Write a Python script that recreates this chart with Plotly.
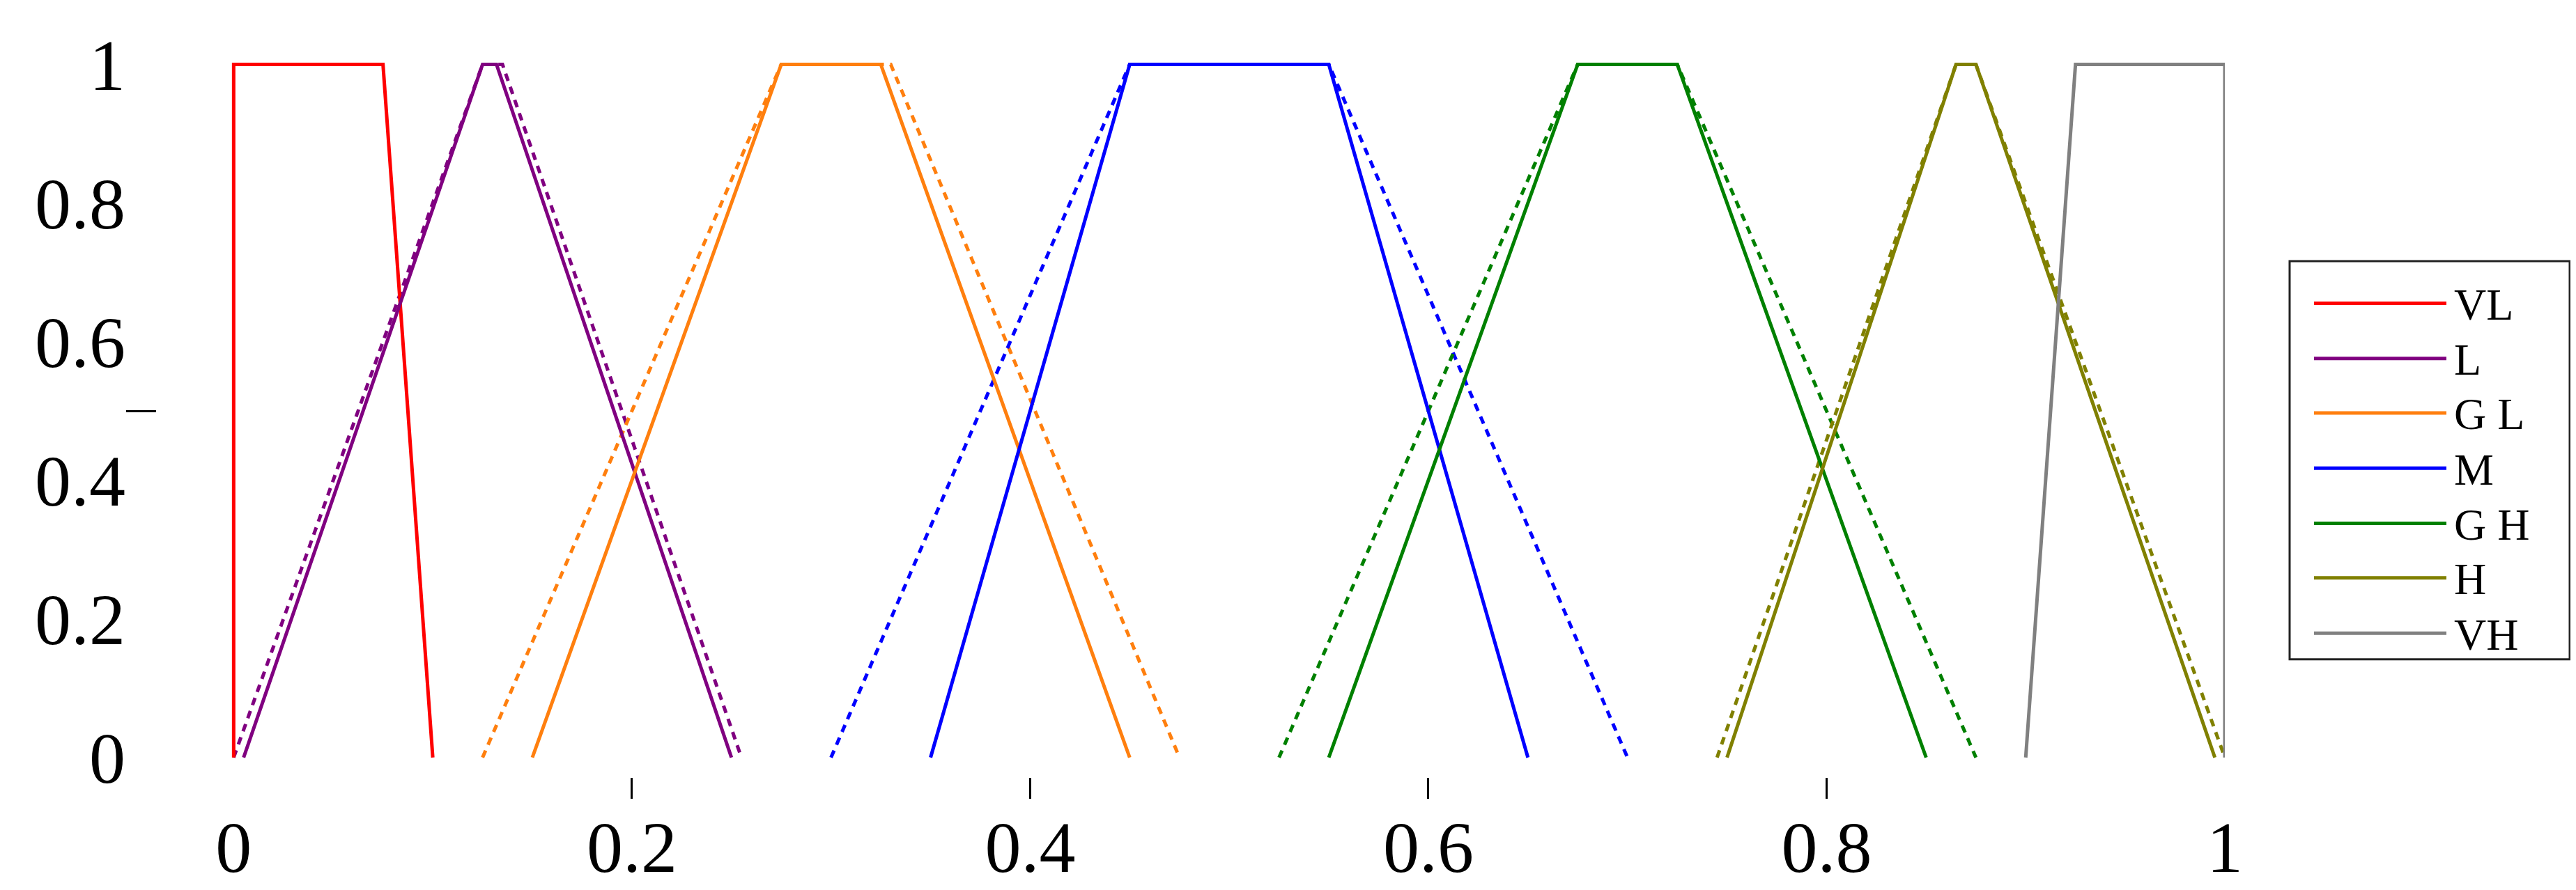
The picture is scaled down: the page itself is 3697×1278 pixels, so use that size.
import plotly.graph_objects as go

# membership function vertices (x), y is 0/1 pattern below
names = ["VL", "L", "G L", "M", "G H", "H", "VH"]
colors = ["#ff0000", "#800080", "#ff7f0e", "#0000ff", "#008000", "#808000", "#808080"]

solid_x = [
    [0.0, 0.0, 0.075, 0.1],
    [0.005, 0.125, 0.132, 0.25],
    [0.15, 0.275, 0.325, 0.45],
    [0.35, 0.45, 0.55, 0.65],
    [0.55, 0.675, 0.725, 0.85],
    [0.75, 0.865, 0.875, 0.995],
    [0.9, 0.925, 1.0, 1.0],
]
solid_y = [
    [0, 1, 1, 0],
    [0, 1, 1, 0],
    [0, 1, 1, 0],
    [0, 1, 1, 0],
    [0, 1, 1, 0],
    [0, 1, 1, 0],
    [0, 1, 1, 0],
]
dashed_x = [
    None,
    [0.0, 0.125, 0.135, 0.255],
    [0.125, 0.275, 0.33, 0.475],
    [0.3, 0.45, 0.55, 0.7],
    [0.525, 0.675, 0.725, 0.875],
    [0.745, 0.865, 0.875, 1.0],
    None,
]
dashed_y = [0, 1, 1, 0]

fig = go.Figure()
for i, n in enumerate(names):
    if dashed_x[i] is not None:
        fig.add_trace(go.Scatter(x=dashed_x[i], y=dashed_y, mode="lines", showlegend=False,
                                 line=dict(color=colors[i], width=5, dash="11px,9px")))
for i, n in enumerate(names):
    fig.add_trace(go.Scatter(x=solid_x[i], y=solid_y[i], mode="lines", name=n, showlegend=False,
                             line=dict(color=colors[i], width=5)))

W, H = 3697, 1278
L, R, T, B = 173, 512, 29, 129
pw, ph = W - L - R, H - T - B

def px(x):
    return (x - L) / pw

def py(y):
    return (H - B - y) / ph

shapes = [dict(type="rect", xref="paper", yref="paper", x0=px(3278), x1=px(3680), y0=py(947), y1=py(370),
               line=dict(color="#222", width=3), fillcolor="white")]
annotations = []
row_y = [431, 511, 590, 670, 750, 829, 909]
for i, n in enumerate(names):
    shapes.append(dict(type="line", xref="paper", yref="paper", x0=px(3313), x1=px(3503),
                       y0=py(row_y[i]), y1=py(row_y[i]), line=dict(color=colors[i], width=5)))
    annotations.append(dict(xref="paper", yref="paper", x=px(3512), y=py(row_y[i] + 2), text=n, showarrow=False,
                            xanchor="left", yanchor="middle", font=dict(size=64, color="black")))

x_labels = [0.1, 0.2, 0.3, 0.4, 0.5, 0.6, 0.7, 0.8, 0.9, 1.0]
y_labels = [0.0, 0.5, 1.0]

fig.update_layout(
    width=W, height=H, margin=dict(l=L, r=R, t=T, b=B),
    paper_bgcolor="white", plot_bgcolor="white",
    font=dict(family="Liberation Serif", size=104, color="black"),
    shapes=shapes, annotations=annotations, showlegend=False,
    xaxis2=dict(overlaying="x", matches="x", tickvals=[0.2, 0.4, 0.6, 0.8], ticks="inside", ticklen=30,
                tickwidth=3, tickcolor="black", showticklabels=False, showgrid=False, zeroline=False),
    yaxis2=dict(overlaying="y", matches="y", tickvals=[0.5], ticks="inside", ticklen=43,
                tickwidth=3, tickcolor="black", showticklabels=False, showgrid=False, zeroline=False),
)
fig.add_trace(go.Scatter(x=[0], y=[0], xaxis="x2", yaxis="y2", mode="markers", marker=dict(opacity=0),
                         showlegend=False, hoverinfo="skip"))
fig.update_xaxes(selector=dict(anchor="y"), range=[0, 1.002], tickvals=x_labels,
                 ticktext=["%.1f" % v for v in x_labels], ticks="",
                 showline=True, linecolor="#222", linewidth=4, mirror=True, showgrid=False, zeroline=False)
fig.update_layout(xaxis2_range=[0, 1.002], yaxis2_range=[0, 1.022], xaxis2_side="bottom")
fig.update_yaxes(selector=dict(anchor="x"), range=[0, 1.022], tickvals=y_labels,
                 ticktext=["%.1f" % v for v in y_labels], ticks="",
                 showline=True, linecolor="#222", linewidth=4, mirror=True, showgrid=False, zeroline=False)

fig.write_html("out.html")
